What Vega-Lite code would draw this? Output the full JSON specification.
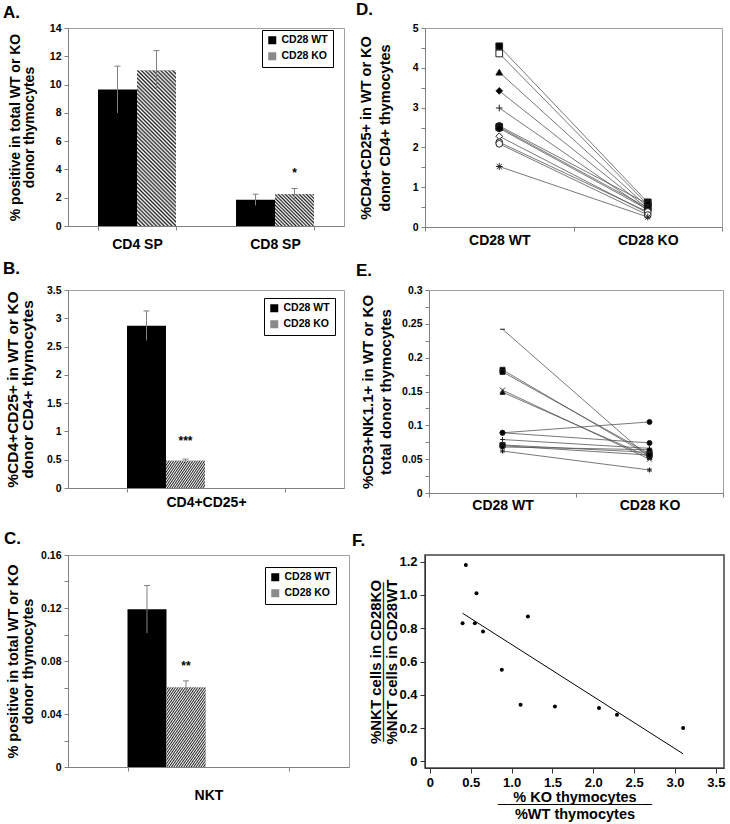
{
"$schema":"https://vega.github.io/schema/vega-lite/v6.json",
"background":"white",
"padding":{"left":2,"top":0,"right":0,"bottom":0},
"config":{
 "font":"Liberation Sans",
 "view":{"stroke":"#a0a0a0"},
 "title":{"anchor":"start","frame":"group","fontSize":17,"fontWeight":"bold","font":"Liberation Sans","color":"black"},
 "axis":{"labelFont":"Liberation Sans","labelFontWeight":"bold","labelColor":"black","labelFontSize":10.5,"labelOverlap":false,"titleFont":"Liberation Sans","titleFontWeight":"bold","titleColor":"black","titleFontSize":14,"domainColor":"#808080","tickColor":"#808080","tickSize":4,"grid":false,"labelPadding":3},
 "legend":{"labelFont":"Liberation Sans","labelFontWeight":"bold","labelFontSize":10.5,"labelColor":"black","strokeColor":"black","fillColor":"white","padding":5,"rowPadding":5,"symbolType":"square","symbolSize":64,"symbolStrokeWidth":0,"labelOffset":4}
},
"resolve":{"scale":{"color":"independent","shape":"independent","fill":"independent"}},
"spacing":16,
"vconcat":[
 {"spacing":7,
  "resolve":{"scale":{"color":"independent","shape":"independent","fill":"independent"}},
  "vconcat":[
 {"spacing":10,"hconcat":[
  {"title":{"text":"A.","dx":-65,"offset":1},"width":276,"height":198,
   "data":{"values":[
    {"cat":"CD4 SP","genotype":"CD28 WT","value":9.65,"lo":8.0,"hi":11.3},
    {"cat":"CD4 SP","genotype":"CD28 KO","value":11.0,"lo":9.6,"hi":12.4},
    {"cat":"CD8 SP","genotype":"CD28 WT","value":1.85,"lo":1.45,"hi":2.25},
    {"cat":"CD8 SP","genotype":"CD28 KO","value":2.25,"lo":1.85,"hi":2.65,"sig":"*"}]},
   "encoding":{
    "x":{"field":"cat","type":"nominal","sort":null,"title":null,"scale":{"paddingInner":0.435,"paddingOuter":0.2175},"axis":{"tickBand":"extent","labelPadding":7,"labelFontSize":14,"labelAngle":0}},
    "xOffset":{"field":"genotype","type":"nominal","sort":["CD28 WT","CD28 KO"],"scale":{"paddingInner":0,"paddingOuter":0}}},
   "layer":[
    {"mark":"bar","encoding":{
      "y":{"field":"value","type":"quantitative","scale":{"domain":[0,14],"nice":false},"axis":{"values":[0,2,4,6,8,10,12,14],"labelOverlap":false,"title":["% positive in total WT or KO","donor thymocytes"],"titleX":-46,"titleLineHeight":14,"titleFontSize":14}},
      "color":{"field":"genotype","type":"nominal","scale":{"domain":["CD28 WT","CD28 KO"],"range":["black","#8a8a8a"]},"legend":{"orient":"none","legendX":194,"legendY":2,"title":null,"encode":{"symbols":{"update":{"fill":{"signal":"datum.value == 'CD28 KO' ? {gradient: 'linear', x1: 0, y1: 1, x2: 10.94, y2: -9.94, stops: [{offset: 0, color: '#222'}, {offset: 0.01, color: '#fff'}, {offset: 0.02, color: '#222'}, {offset: 0.03, color: '#fff'}, {offset: 0.04, color: '#222'}, {offset: 0.05, color: '#fff'}, {offset: 0.06, color: '#222'}, {offset: 0.07, color: '#fff'}, {offset: 0.08, color: '#222'}, {offset: 0.09, color: '#fff'}, {offset: 0.1, color: '#222'}]} : 'black'"}}}}}}}},
    {"transform":[{"filter":"datum.genotype == 'CD28 KO'"}],"mark":"bar","encoding":{
      "y":{"field":"value","type":"quantitative","axis":{"values":[0,2,4,6,8,10,12,14],"labelOverlap":false}},
      "fill":{"condition":{"test":"datum.cat == 'CD4 SP'","value":{"gradient":"linear","x1":0,"y1":1,"x2":0.2955,"y2":-0.1792,"stops":[{"offset":0,"color":"#222"},{"offset":0.01,"color":"#fff"},{"offset":0.02,"color":"#222"},{"offset":0.03,"color":"#fff"},{"offset":0.04,"color":"#222"},{"offset":0.05,"color":"#fff"},{"offset":0.06,"color":"#222"},{"offset":0.07,"color":"#fff"},{"offset":0.08,"color":"#222"},{"offset":0.09,"color":"#fff"},{"offset":0.1,"color":"#222"},{"offset":0.11,"color":"#fff"},{"offset":0.12,"color":"#222"},{"offset":0.13,"color":"#fff"},{"offset":0.14,"color":"#222"},{"offset":0.15,"color":"#fff"},{"offset":0.16,"color":"#222"},{"offset":0.17,"color":"#fff"},{"offset":0.18,"color":"#222"},{"offset":0.19,"color":"#fff"},{"offset":0.2,"color":"#222"},{"offset":0.21,"color":"#fff"},{"offset":0.22,"color":"#222"},{"offset":0.23,"color":"#fff"},{"offset":0.24,"color":"#222"},{"offset":0.25,"color":"#fff"},{"offset":0.26,"color":"#222"},{"offset":0.27,"color":"#fff"},{"offset":0.28,"color":"#222"},{"offset":0.29,"color":"#fff"},{"offset":0.3,"color":"#222"},{"offset":0.31,"color":"#fff"},{"offset":0.32,"color":"#222"},{"offset":0.33,"color":"#fff"},{"offset":0.34,"color":"#222"},{"offset":0.35,"color":"#fff"},{"offset":0.36,"color":"#222"},{"offset":0.37,"color":"#fff"},{"offset":0.38,"color":"#222"},{"offset":0.39,"color":"#fff"},{"offset":0.4,"color":"#222"},{"offset":0.41,"color":"#fff"},{"offset":0.42,"color":"#222"},{"offset":0.43,"color":"#fff"},{"offset":0.44,"color":"#222"},{"offset":0.45,"color":"#fff"},{"offset":0.46,"color":"#222"},{"offset":0.47,"color":"#fff"},{"offset":0.48,"color":"#222"},{"offset":0.49,"color":"#fff"},{"offset":0.5,"color":"#222"},{"offset":0.51,"color":"#fff"},{"offset":0.52,"color":"#222"},{"offset":0.53,"color":"#fff"},{"offset":0.54,"color":"#222"},{"offset":0.55,"color":"#fff"},{"offset":0.56,"color":"#222"},{"offset":0.57,"color":"#fff"},{"offset":0.58,"color":"#222"},{"offset":0.59,"color":"#fff"},{"offset":0.6,"color":"#222"},{"offset":0.61,"color":"#fff"},{"offset":0.62,"color":"#222"},{"offset":0.63,"color":"#fff"},{"offset":0.64,"color":"#222"},{"offset":0.65,"color":"#fff"},{"offset":0.66,"color":"#222"},{"offset":0.67,"color":"#fff"},{"offset":0.68,"color":"#222"},{"offset":0.69,"color":"#fff"},{"offset":0.7,"color":"#222"},{"offset":0.71,"color":"#fff"},{"offset":0.72,"color":"#222"},{"offset":0.73,"color":"#fff"},{"offset":0.74,"color":"#222"},{"offset":0.75,"color":"#fff"},{"offset":0.76,"color":"#222"},{"offset":0.77,"color":"#fff"},{"offset":0.78,"color":"#222"},{"offset":0.79,"color":"#fff"},{"offset":0.8,"color":"#222"},{"offset":0.81,"color":"#fff"},{"offset":0.82,"color":"#222"},{"offset":0.83,"color":"#fff"},{"offset":0.84,"color":"#222"},{"offset":0.85,"color":"#fff"},{"offset":0.86,"color":"#222"},{"offset":0.87,"color":"#fff"},{"offset":0.88,"color":"#222"},{"offset":0.89,"color":"#fff"},{"offset":0.9,"color":"#222"},{"offset":0.91,"color":"#fff"},{"offset":0.92,"color":"#222"},{"offset":0.93,"color":"#fff"},{"offset":0.94,"color":"#222"},{"offset":0.95,"color":"#fff"},{"offset":0.96,"color":"#222"},{"offset":0.97,"color":"#fff"},{"offset":0.98,"color":"#222"},{"offset":0.99,"color":"#fff"},{"offset":1,"color":"#222"}]}},
       "value":{"gradient":"linear","x1":0,"y1":1,"x2":2.6955,"y2":-1.1979,"stops":[{"offset":0,"color":"#222"},{"offset":0.01,"color":"#fff"},{"offset":0.02,"color":"#222"},{"offset":0.03,"color":"#fff"},{"offset":0.04,"color":"#222"},{"offset":0.05,"color":"#fff"},{"offset":0.06,"color":"#222"},{"offset":0.07,"color":"#fff"},{"offset":0.08,"color":"#222"},{"offset":0.09,"color":"#fff"},{"offset":0.1,"color":"#222"},{"offset":0.11,"color":"#fff"},{"offset":0.12,"color":"#222"},{"offset":0.13,"color":"#fff"},{"offset":0.14,"color":"#222"},{"offset":0.15,"color":"#fff"},{"offset":0.16,"color":"#222"},{"offset":0.17,"color":"#fff"},{"offset":0.18,"color":"#222"},{"offset":0.19,"color":"#fff"},{"offset":0.2,"color":"#222"},{"offset":0.21,"color":"#fff"},{"offset":0.22,"color":"#222"},{"offset":0.23,"color":"#fff"},{"offset":0.24,"color":"#222"},{"offset":0.25,"color":"#fff"},{"offset":0.26,"color":"#222"},{"offset":0.27,"color":"#fff"},{"offset":0.28,"color":"#222"},{"offset":0.29,"color":"#fff"},{"offset":0.3,"color":"#222"},{"offset":0.31,"color":"#fff"},{"offset":0.32,"color":"#222"},{"offset":0.33,"color":"#fff"},{"offset":0.34,"color":"#222"},{"offset":0.35,"color":"#fff"},{"offset":0.36,"color":"#222"},{"offset":0.37,"color":"#fff"},{"offset":0.38,"color":"#222"},{"offset":0.39,"color":"#fff"},{"offset":0.4,"color":"#222"},{"offset":0.41,"color":"#fff"}]}}}},
    {"mark":{"type":"rule","color":"#808080"},"encoding":{"y":{"field":"lo","type":"quantitative","axis":{"values":[0,2,4,6,8,10,12,14],"labelOverlap":false}},"y2":{"field":"hi"}}},
    {"mark":{"type":"point","shape":"M-1,0L1,0","size":36,"stroke":"#808080","strokeWidth":1,"filled":false,"opacity":1},"encoding":{"y":{"field":"hi","type":"quantitative","axis":{"values":[0,2,4,6,8,10,12,14],"labelOverlap":false}}}},
    {"transform":[{"filter":"datum.sig"}],"mark":{"type":"text","dy":-16,"fontSize":12,"fontWeight":"bold","baseline":"middle"},"encoding":{"y":{"field":"hi","type":"quantitative","axis":{"values":[0,2,4,6,8,10,12,14],"labelOverlap":false}},"text":{"field":"sig"}}}
   ]},
  {"title":{"text":"D.","dx":-69,"offset":4},"width":297,"height":199,
   "data":{"values":[
    {"id":"1","genotype":"CD28 WT","value":4.54},{"id":"1","genotype":"CD28 KO","value":0.62},
    {"id":"2","genotype":"CD28 WT","value":4.36},{"id":"2","genotype":"CD28 KO","value":0.56},
    {"id":"3","genotype":"CD28 WT","value":3.89},{"id":"3","genotype":"CD28 KO","value":0.5},
    {"id":"4","genotype":"CD28 WT","value":3.42},{"id":"4","genotype":"CD28 KO","value":0.46},
    {"id":"5","genotype":"CD28 WT","value":2.99},{"id":"5","genotype":"CD28 KO","value":0.42},
    {"id":"6","genotype":"CD28 WT","value":2.54},{"id":"6","genotype":"CD28 KO","value":0.58},
    {"id":"7","genotype":"CD28 WT","value":2.51},{"id":"7","genotype":"CD28 KO","value":0.48},
    {"id":"8","genotype":"CD28 WT","value":2.48},{"id":"8","genotype":"CD28 KO","value":0.44},
    {"id":"9","genotype":"CD28 WT","value":2.28},{"id":"9","genotype":"CD28 KO","value":0.35},
    {"id":"10","genotype":"CD28 WT","value":2.13},{"id":"10","genotype":"CD28 KO","value":0.38},
    {"id":"11","genotype":"CD28 WT","value":2.09},{"id":"11","genotype":"CD28 KO","value":0.3},
    {"id":"12","genotype":"CD28 WT","value":1.52},{"id":"12","genotype":"CD28 KO","value":0.25}]},
   "encoding":{
    "x":{"field":"genotype","type":"nominal","sort":["CD28 WT","CD28 KO"],"title":null,"scale":{"type":"band","paddingInner":0,"paddingOuter":0},"axis":{"tickBand":"extent","labelPadding":2,"labelFontSize":14,"labelAngle":0}},
    "y":{"field":"value","type":"quantitative","scale":{"domain":[0,5],"nice":false},"axis":{"values":[0,0.5,1,1.5,2,2.5,3,3.5,4,4.5,5],"labelExpr":"datum.value % 1 == 0 ? format(datum.value,'~g') : ''","title":["%CD4+CD25+ in WT or KO","donor CD4+  thymocytes"],"titleX":-52,"titleLineHeight":19,"titleFontSize":14.5}}},
   "layer":[
    {"mark":{"type":"line","color":"#555555","strokeWidth":0.8},"encoding":{"detail":{"field":"id"}}},
    {"mark":{"type":"point","size":45,"strokeWidth":1,"opacity":1},"encoding":{
      "shape":{"field":"id","type":"nominal","legend":null,"scale":{"domain":["1","2","3","4","5","6","7","8","9","10","11","12"],"range":["square","square","triangle-up","diamond","M-1,0L1,0M0,-1L0,1","circle","square","circle","diamond","circle","circle","M-1,0L1,0M0,-1L0,1M-0.75,-0.75L0.75,0.75M-0.75,0.75L0.75,-0.75"]}},
      "fill":{"field":"id","type":"nominal","legend":null,"scale":{"domain":["1","2","3","4","5","6","7","8","9","10","11","12"],"range":["black","white","black","black","transparent","black","black","black","white","white","white","transparent"]}},
      "stroke":{"value":"#222222"}}}
   ]}
 ]},
 {"spacing":10,"hconcat":[
  {"title":{"text":"B.","dx":-65,"offset":7},"width":276,"height":198,
   "data":{"values":[
    {"cat":"CD4+CD25+","genotype":"CD28 WT","value":2.87,"lo":2.61,"hi":3.13},
    {"cat":"CD4+CD25+","genotype":"CD28 KO","value":0.48,"lo":0.45,"hi":0.51,"sig":"***"}]},
   "encoding":{
    "x":{"field":"cat","type":"nominal","sort":null,"title":null,"scale":{"paddingInner":0.4275,"paddingOuter":0.21375},"axis":{"tickBand":"extent","labelPadding":3,"labelFontSize":14,"labelAngle":0}},
    "xOffset":{"field":"genotype","type":"nominal","sort":["CD28 WT","CD28 KO"],"scale":{"paddingInner":0,"paddingOuter":0}}},
   "layer":[
    {"mark":"bar","encoding":{
      "y":{"field":"value","type":"quantitative","scale":{"domain":[0,3.5],"nice":false},"axis":{"values":[0,0.5,1,1.5,2,2.5,3,3.5],"labelOverlap":false,"format":"~g","title":["%CD4+CD25+ in WT or KO","donor CD4+  thymocytes"],"titleX":-48,"titleLineHeight":15,"titleFontSize":15.5}},
      "color":{"field":"genotype","type":"nominal","scale":{"domain":["CD28 WT","CD28 KO"],"range":["black","#8a8a8a"]},"legend":{"orient":"none","legendX":196,"legendY":8,"title":null,"encode":{"symbols":{"update":{"fill":{"signal":"datum.value == 'CD28 KO' ? {gradient: 'linear', x1: 0, y1: 1, x2: 10.94, y2: -9.94, stops: [{offset: 0, color: '#222'}, {offset: 0.01, color: '#fff'}, {offset: 0.02, color: '#222'}, {offset: 0.03, color: '#fff'}, {offset: 0.04, color: '#222'}, {offset: 0.05, color: '#fff'}, {offset: 0.06, color: '#222'}, {offset: 0.07, color: '#fff'}, {offset: 0.08, color: '#222'}, {offset: 0.09, color: '#fff'}, {offset: 0.1, color: '#222'}]} : 'black'"}}}}}}}},
    {"transform":[{"filter":"datum.genotype == 'CD28 KO'"}],"mark":{"type":"bar","fill":{"gradient":"linear","x1":0,"y1":1,"x2":1.9812,"y2":0.3191,"stops":[{"offset":0,"color":"#222"},{"offset":0.01,"color":"#fff"},{"offset":0.02,"color":"#222"},{"offset":0.03,"color":"#fff"},{"offset":0.04,"color":"#222"},{"offset":0.05,"color":"#fff"},{"offset":0.06,"color":"#222"},{"offset":0.07,"color":"#fff"},{"offset":0.08,"color":"#222"},{"offset":0.09,"color":"#fff"},{"offset":0.1,"color":"#222"},{"offset":0.11,"color":"#fff"},{"offset":0.12,"color":"#222"},{"offset":0.13,"color":"#fff"},{"offset":0.14,"color":"#222"},{"offset":0.15,"color":"#fff"},{"offset":0.16,"color":"#222"},{"offset":0.17,"color":"#fff"},{"offset":0.18,"color":"#222"},{"offset":0.19,"color":"#fff"},{"offset":0.2,"color":"#222"},{"offset":0.21,"color":"#fff"},{"offset":0.22,"color":"#222"},{"offset":0.23,"color":"#fff"},{"offset":0.24,"color":"#222"},{"offset":0.25,"color":"#fff"},{"offset":0.26,"color":"#222"},{"offset":0.27,"color":"#fff"},{"offset":0.28,"color":"#222"},{"offset":0.29,"color":"#fff"},{"offset":0.3,"color":"#222"},{"offset":0.31,"color":"#fff"},{"offset":0.32,"color":"#222"},{"offset":0.33,"color":"#fff"},{"offset":0.34,"color":"#222"},{"offset":0.35,"color":"#fff"},{"offset":0.36,"color":"#222"},{"offset":0.37,"color":"#fff"},{"offset":0.38,"color":"#222"},{"offset":0.39,"color":"#fff"},{"offset":0.4,"color":"#222"},{"offset":0.41,"color":"#fff"},{"offset":0.42,"color":"#222"},{"offset":0.43,"color":"#fff"},{"offset":0.44,"color":"#222"},{"offset":0.45,"color":"#fff"},{"offset":0.46,"color":"#222"},{"offset":0.47,"color":"#fff"},{"offset":0.48,"color":"#222"},{"offset":0.49,"color":"#fff"},{"offset":0.5,"color":"#222"},{"offset":0.51,"color":"#fff"},{"offset":0.52,"color":"#222"},{"offset":0.53,"color":"#fff"},{"offset":0.54,"color":"#222"},{"offset":0.55,"color":"#fff"},{"offset":0.56,"color":"#222"},{"offset":0.57,"color":"#fff"},{"offset":0.58,"color":"#222"},{"offset":0.59,"color":"#fff"},{"offset":0.6,"color":"#222"},{"offset":0.61,"color":"#fff"}]}},"encoding":{"y":{"field":"value","type":"quantitative","axis":{"values":[0,0.5,1,1.5,2,2.5,3,3.5],"labelOverlap":false}}}},
    {"mark":{"type":"rule","color":"#808080"},"encoding":{"y":{"field":"lo","type":"quantitative","axis":{"values":[0,0.5,1,1.5,2,2.5,3,3.5],"labelOverlap":false}},"y2":{"field":"hi"}}},
    {"mark":{"type":"point","shape":"M-1,0L1,0","size":36,"stroke":"#808080","strokeWidth":1,"filled":false,"opacity":1},"encoding":{"y":{"field":"hi","type":"quantitative","axis":{"values":[0,0.5,1,1.5,2,2.5,3,3.5],"labelOverlap":false}}}},
    {"transform":[{"filter":"datum.sig"}],"mark":{"type":"text","dy":-18,"fontSize":12,"fontWeight":"bold","baseline":"middle"},"encoding":{"y":{"field":"hi","type":"quantitative","axis":{"values":[0,0.5,1,1.5,2,2.5,3,3.5],"labelOverlap":false}},"text":{"field":"sig"}}}
   ]},
  {"title":{"text":"E.","dx":-73,"offset":5},"width":294,"height":203,
   "data":{"values":[
    {"id":"1","genotype":"CD28 WT","value":0.242},{"id":"1","genotype":"CD28 KO","value":0.052},
    {"id":"2","genotype":"CD28 WT","value":0.182},{"id":"2","genotype":"CD28 KO","value":0.055},
    {"id":"3","genotype":"CD28 WT","value":0.179},{"id":"3","genotype":"CD28 KO","value":0.058},
    {"id":"4","genotype":"CD28 WT","value":0.152},{"id":"4","genotype":"CD28 KO","value":0.05},
    {"id":"5","genotype":"CD28 WT","value":0.149},{"id":"5","genotype":"CD28 KO","value":0.053},
    {"id":"6","genotype":"CD28 WT","value":0.089},{"id":"6","genotype":"CD28 KO","value":0.105},
    {"id":"7","genotype":"CD28 WT","value":0.089},{"id":"7","genotype":"CD28 KO","value":0.074},
    {"id":"8","genotype":"CD28 WT","value":0.079},{"id":"8","genotype":"CD28 KO","value":0.066},
    {"id":"9","genotype":"CD28 WT","value":0.071},{"id":"9","genotype":"CD28 KO","value":0.06},
    {"id":"10","genotype":"CD28 WT","value":0.07},{"id":"10","genotype":"CD28 KO","value":0.056},
    {"id":"11","genotype":"CD28 WT","value":0.068},{"id":"11","genotype":"CD28 KO","value":0.064},
    {"id":"12","genotype":"CD28 WT","value":0.062},{"id":"12","genotype":"CD28 KO","value":0.034}]},
   "encoding":{
    "x":{"field":"genotype","type":"nominal","sort":["CD28 WT","CD28 KO"],"title":null,"scale":{"type":"band","paddingInner":0,"paddingOuter":0},"axis":{"tickBand":"extent","labelPadding":1,"labelFontSize":14,"labelAngle":0}},
    "y":{"field":"value","type":"quantitative","scale":{"domain":[0,0.3],"nice":false},"axis":{"values":[0,0.025,0.05,0.075,0.1,0.125,0.15,0.175,0.2,0.225,0.25,0.275,0.3],"labelExpr":"round(datum.value*1000) % 50 == 0 ? format(datum.value,'~g') : ''","title":["%CD3+NK1.1+ in WT or KO","total donor thymocytes"],"titleX":-54,"titleLineHeight":18,"titleFontSize":15}}},
   "layer":[
    {"mark":{"type":"line","color":"#555555","strokeWidth":0.8},"encoding":{"detail":{"field":"id"}}},
    {"mark":{"type":"point","size":25,"strokeWidth":1,"opacity":1},"encoding":{
      "shape":{"field":"id","type":"nominal","legend":null,"scale":{"domain":["1","2","3","4","5","6","7","8","9","10","11","12"],"range":["M-1,0L1,0","square","square","M-1,-1L1,1M-1,1L1,-1","triangle-up","circle","circle","M-1,0L1,0M0,-1L0,1","square","square","diamond","M-1,0L1,0M0,-1L0,1M-0.75,-0.75L0.75,0.75M-0.75,0.75L0.75,-0.75"]}},
      "fill":{"field":"id","type":"nominal","legend":null,"scale":{"domain":["1","2","3","4","5","6","7","8","9","10","11","12"],"range":["transparent","black","black","transparent","black","black","black","transparent","black","black","black","transparent"]}},
      "stroke":{"value":"#222222"}}}
   ]}
 ]}
 ]},
 {"spacing":1,"hconcat":[
  {"title":{"text":"C.","dx":-64,"offset":2},"width":281,"height":212,
   "data":{"values":[
    {"cat":"NKT","genotype":"CD28 WT","value":0.119,"lo":0.101,"hi":0.137},
    {"cat":"NKT","genotype":"CD28 KO","value":0.06,"lo":0.055,"hi":0.065,"sig":"**"}]},
   "encoding":{
    "x":{"field":"cat","type":"nominal","sort":null,"title":null,"scale":{"paddingInner":0.4235,"paddingOuter":0.21175},"axis":{"tickBand":"extent","labelPadding":17,"labelFontSize":14,"labelAngle":0}},
    "xOffset":{"field":"genotype","type":"nominal","sort":["CD28 WT","CD28 KO"],"scale":{"paddingInner":0,"paddingOuter":0}}},
   "layer":[
    {"mark":"bar","encoding":{
      "y":{"field":"value","type":"quantitative","scale":{"domain":[0,0.16],"nice":false},"axis":{"values":[0,0.02,0.04,0.06,0.08,0.1,0.12,0.14,0.16],"labelOverlap":false,"labelExpr":"round(datum.value*100) % 4 == 0 ? format(datum.value,'~g') : ''","title":["% positive in total WT or KO","donor thymocytes"],"titleX":-48,"titleLineHeight":15,"titleFontSize":14.5}},
      "color":{"field":"genotype","type":"nominal","scale":{"domain":["CD28 WT","CD28 KO"],"range":["black","#8a8a8a"]},"legend":{"orient":"none","legendX":197,"legendY":12,"title":null,"encode":{"symbols":{"update":{"fill":{"signal":"datum.value == 'CD28 KO' ? {gradient: 'linear', x1: 0, y1: 1, x2: 10.94, y2: -9.94, stops: [{offset: 0, color: '#222'}, {offset: 0.01, color: '#fff'}, {offset: 0.02, color: '#222'}, {offset: 0.03, color: '#fff'}, {offset: 0.04, color: '#222'}, {offset: 0.05, color: '#fff'}, {offset: 0.06, color: '#222'}, {offset: 0.07, color: '#fff'}, {offset: 0.08, color: '#222'}, {offset: 0.09, color: '#fff'}, {offset: 0.1, color: '#222'}]} : 'black'"}}}}}}}},
    {"transform":[{"filter":"datum.genotype == 'CD28 KO'"}],"mark":{"type":"bar","fill":{"gradient":"linear","x1":0,"y1":1,"x2":1.1005,"y2":-0.0801,"stops":[{"offset":0,"color":"#222"},{"offset":0.01,"color":"#fff"},{"offset":0.02,"color":"#222"},{"offset":0.03,"color":"#fff"},{"offset":0.04,"color":"#222"},{"offset":0.05,"color":"#fff"},{"offset":0.06,"color":"#222"},{"offset":0.07,"color":"#fff"},{"offset":0.08,"color":"#222"},{"offset":0.09,"color":"#fff"},{"offset":0.1,"color":"#222"},{"offset":0.11,"color":"#fff"},{"offset":0.12,"color":"#222"},{"offset":0.13,"color":"#fff"},{"offset":0.14,"color":"#222"},{"offset":0.15,"color":"#fff"},{"offset":0.16,"color":"#222"},{"offset":0.17,"color":"#fff"},{"offset":0.18,"color":"#222"},{"offset":0.19,"color":"#fff"},{"offset":0.2,"color":"#222"},{"offset":0.21,"color":"#fff"},{"offset":0.22,"color":"#222"},{"offset":0.23,"color":"#fff"},{"offset":0.24,"color":"#222"},{"offset":0.25,"color":"#fff"},{"offset":0.26,"color":"#222"},{"offset":0.27,"color":"#fff"},{"offset":0.28,"color":"#222"},{"offset":0.29,"color":"#fff"},{"offset":0.3,"color":"#222"},{"offset":0.31,"color":"#fff"},{"offset":0.32,"color":"#222"},{"offset":0.33,"color":"#fff"},{"offset":0.34,"color":"#222"},{"offset":0.35,"color":"#fff"},{"offset":0.36,"color":"#222"},{"offset":0.37,"color":"#fff"},{"offset":0.38,"color":"#222"},{"offset":0.39,"color":"#fff"},{"offset":0.4,"color":"#222"},{"offset":0.41,"color":"#fff"},{"offset":0.42,"color":"#222"},{"offset":0.43,"color":"#fff"},{"offset":0.44,"color":"#222"},{"offset":0.45,"color":"#fff"},{"offset":0.46,"color":"#222"},{"offset":0.47,"color":"#fff"},{"offset":0.48,"color":"#222"},{"offset":0.49,"color":"#fff"},{"offset":0.5,"color":"#222"},{"offset":0.51,"color":"#fff"},{"offset":0.52,"color":"#222"},{"offset":0.53,"color":"#fff"},{"offset":0.54,"color":"#222"},{"offset":0.55,"color":"#fff"},{"offset":0.56,"color":"#222"},{"offset":0.57,"color":"#fff"},{"offset":0.58,"color":"#222"},{"offset":0.59,"color":"#fff"},{"offset":0.6,"color":"#222"},{"offset":0.61,"color":"#fff"},{"offset":0.62,"color":"#222"},{"offset":0.63,"color":"#fff"},{"offset":0.64,"color":"#222"},{"offset":0.65,"color":"#fff"},{"offset":0.66,"color":"#222"},{"offset":0.67,"color":"#fff"},{"offset":0.68,"color":"#222"},{"offset":0.69,"color":"#fff"},{"offset":0.7,"color":"#222"},{"offset":0.71,"color":"#fff"},{"offset":0.72,"color":"#222"},{"offset":0.73,"color":"#fff"},{"offset":0.74,"color":"#222"},{"offset":0.75,"color":"#fff"},{"offset":0.76,"color":"#222"},{"offset":0.77,"color":"#fff"},{"offset":0.78,"color":"#222"},{"offset":0.79,"color":"#fff"},{"offset":0.8,"color":"#222"},{"offset":0.81,"color":"#fff"},{"offset":0.82,"color":"#222"},{"offset":0.83,"color":"#fff"},{"offset":0.84,"color":"#222"},{"offset":0.85,"color":"#fff"},{"offset":0.86,"color":"#222"},{"offset":0.87,"color":"#fff"},{"offset":0.88,"color":"#222"},{"offset":0.89,"color":"#fff"},{"offset":0.9,"color":"#222"},{"offset":0.91,"color":"#fff"},{"offset":0.92,"color":"#222"}]}},"encoding":{"y":{"field":"value","type":"quantitative","axis":{"values":[0,0.02,0.04,0.06,0.08,0.1,0.12,0.14,0.16],"labelOverlap":false}}}},
    {"mark":{"type":"rule","color":"#808080"},"encoding":{"y":{"field":"lo","type":"quantitative","axis":{"values":[0,0.02,0.04,0.06,0.08,0.1,0.12,0.14,0.16],"labelOverlap":false}},"y2":{"field":"hi"}}},
    {"mark":{"type":"point","shape":"M-1,0L1,0","size":36,"stroke":"#808080","strokeWidth":1,"filled":false,"opacity":1},"encoding":{"y":{"field":"hi","type":"quantitative","axis":{"values":[0,0.02,0.04,0.06,0.08,0.1,0.12,0.14,0.16],"labelOverlap":false}}}},
    {"transform":[{"filter":"datum.sig"}],"mark":{"type":"text","dy":-15,"fontSize":12,"fontWeight":"bold","baseline":"middle"},"encoding":{"y":{"field":"hi","type":"quantitative","axis":{"values":[0,0.02,0.04,0.06,0.08,0.1,0.12,0.14,0.16],"labelOverlap":false}},"text":{"field":"sig"}}}
   ]},
  {"title":{"text":"F.","dx":-73,"offset":5},"width":299,"height":213,
   "view":{"stroke":"#444444","strokeWidth":1.5},
   "resolve":{"scale":{"x":"independent","y":"independent"},"axis":{"x":"independent","y":"independent"}},
   "layer":[
    {"data":{"values":[
      {"ratio_thymocytes":0.40,"ratio_nkt":0.83},{"ratio_thymocytes":0.44,"ratio_nkt":1.18},
      {"ratio_thymocytes":0.55,"ratio_nkt":0.83},{"ratio_thymocytes":0.57,"ratio_nkt":1.01},
      {"ratio_thymocytes":0.65,"ratio_nkt":0.78},{"ratio_thymocytes":0.88,"ratio_nkt":0.55},
      {"ratio_thymocytes":1.11,"ratio_nkt":0.34},{"ratio_thymocytes":1.20,"ratio_nkt":0.87},
      {"ratio_thymocytes":1.53,"ratio_nkt":0.33},{"ratio_thymocytes":2.07,"ratio_nkt":0.32},
      {"ratio_thymocytes":2.29,"ratio_nkt":0.28},{"ratio_thymocytes":3.10,"ratio_nkt":0.20}]},
     "mark":{"type":"point","filled":true,"color":"black","size":16,"opacity":1},
     "encoding":{
      "x":{"field":"ratio_thymocytes","type":"quantitative","scale":{"domain":[-0.06,3.6],"nice":false,"zero":false},"axis":{"orient":"bottom","values":[0,0.5,1,1.5,2,2.5,3,3.5],"labelExpr":"datum.value == 0 ? '0' : format(datum.value,'.1f')","labelFontSize":13,"labelFlush":false,"domainColor":"#333333","tickColor":"#333333","tickSize":5,"titleFontSize":14.5,"titleLineHeight":17,"titlePadding":1,"title":["% KO thymocytes","%WT thymocytes"]}},
      "y":{"field":"ratio_nkt","type":"quantitative","scale":{"domain":[-0.04,1.24],"nice":false,"zero":false},"axis":{"orient":"left","values":[0,0.2,0.4,0.6,0.8,1,1.2],"labelExpr":"datum.value == 0 ? '0' : format(datum.value,'.1f')","labelFontSize":13,"labelFlush":false,"domainColor":"#333333","tickColor":"#333333","tickSize":5,"titleFontSize":15,"titleLineHeight":16,"titleX":-42,"title":["%NKT cells in CD28KO","%NKT cells in CD28WT"]}}}},
    {"data":{"values":[{"ratio_thymocytes":0.40,"ratio_nkt":0.89},{"ratio_thymocytes":3.10,"ratio_nkt":0.045}]},
     "mark":{"type":"line","color":"black","strokeWidth":1},
     "encoding":{
      "x":{"field":"ratio_thymocytes","type":"quantitative","scale":{"domain":[-0.06,3.6],"nice":false,"zero":false},"axis":{"orient":"bottom","domain":false,"ticks":false,"labels":false,"titleFontSize":14.5,"titleY":29,"title":"───────────────"}},
      "y":{"field":"ratio_nkt","type":"quantitative","scale":{"domain":[-0.04,1.24],"nice":false,"zero":false},"axis":{"orient":"left","domain":false,"ticks":false,"labels":false,"titleFontSize":15,"titleX":-35,"title":"───────────────"}}}}
   ]}
 ]}
]
}
